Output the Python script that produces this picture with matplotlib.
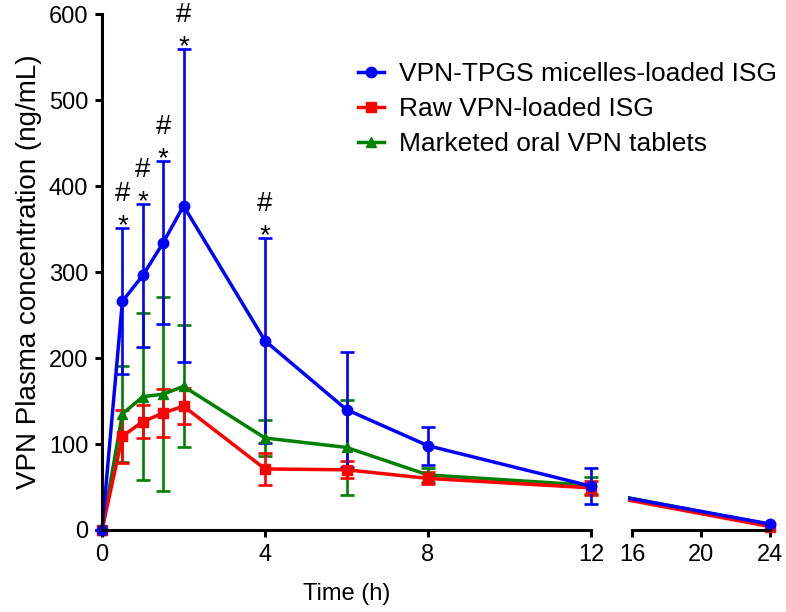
import matplotlib
matplotlib.use("Agg")
import matplotlib.pyplot as plt

# ====== DATA ======
time_h = [0, 0.5, 1, 1.5, 2, 4, 6, 8, 12, 24]

micelle_isg = [0, 266, 296, 334, 377, 220, 140, 98, 51, 7]
micelle_err = [0, 85, 83, 95, 182, 119, 67, 22, 21, 0]

raw_isg = [0, 109, 126, 136, 144, 71, 70, 60, 49, 4]
raw_err = [0, 31, 19, 28, 21, 19, 10, 7, 8, 0]

oral_tab = [0, 135, 155, 158, 167, 107, 96, 64, 52, 6]
oral_err = [0, 56, 97, 113, 71, 21, 55, 8, 10, 0]

labels = ["VPN-TPGS micelles-loaded ISG", "Raw VPN-loaded ISG", "Marketed oral VPN tablets"]
signif_times = [0.5, 1, 1.5, 2, 4]   # points marked with * and #

# ====== STYLE ======
plt.rcParams['font.family'] = ['Liberation Sans', 'DejaVu Sans']
BLUE, RED, GREEN = "#0000ff", "#ff0000", "#008000"
series = [
    (oral_tab, oral_err, GREEN, "^", 7, labels[2]),
    (raw_isg, raw_err, RED, "s", 6.5, labels[1]),
    (micelle_isg, micelle_err, BLUE, "o", 7.5, labels[0]),
]
LW = 2.5

fig = plt.figure(figsize=(7.86, 6.12), dpi=100)
ax1 = fig.add_axes([0.1298, 0.134, 0.6221, 0.843])
ax2 = fig.add_axes([0.799, 0.134, 0.187, 0.843])

n_left = sum(1 for t in time_h if t <= 12)
handles, names = [], []
for vals, err, col, mk, ms, lab in series:
    x = time_h[:n_left]
    y = vals[:n_left]
    e = err[:n_left]
    h = ax1.errorbar(x, y, yerr=e, color=col, marker=mk, markersize=ms,
                     linewidth=LW, elinewidth=1.9, capsize=5, capthick=1.9,
                     clip_on=False)
    for art in h.lines[1] + h.lines[2]:
        art.set_clip_on(False)
    handles.append(h.lines[0])
    names.append(lab)
    # second segment of the broken axis: 12 h -> 24 h
    ax2.plot(time_h[n_left - 1:], vals[n_left - 1:], color=col, linewidth=LW)
    ax2.plot(time_h[n_left:], vals[n_left:], color=col, marker=mk, markersize=ms,
             linestyle="none", clip_on=False)

# significance marks above micelle error bars
for t in signif_times:
    i = time_h.index(t)
    top = micelle_isg[i] + micelle_err[i]
    ax1.annotate("*", (t, top), xytext=(0, -3.5), textcoords="offset points",
                 ha="center", va="baseline", fontsize=20)
    ax1.annotate("#", (t, top), xytext=(0, 19.5), textcoords="offset points",
                 ha="center", va="baseline", fontsize=20)

# ====== AXES ======
ax1.set_xlim(0, 12)
ax1.set_ylim(0, 600)
ax1.set_xticks([0, 4, 8, 12])
ax1.set_yticks(range(0, 601, 100))
ax1.spines[['top', 'right']].set_visible(False)
for s in ['left', 'bottom']:
    ax1.spines[s].set_linewidth(2.2)
ax1.tick_params(width=2.2, length=5, labelsize=17, pad=5)
ax1.set_ylabel("VPN Plasma concentration (ng/mL)", fontsize=20, labelpad=5)
ax1.set_xlabel("Time (h)", fontsize=17, labelpad=12)

ax2.set_xlim(15.77, 24.3)
ax2.set_ylim(0, 600)
ax2.set_xticks([16, 20, 24])
ax2.set_yticks([])
ax2.spines[['top', 'right', 'left']].set_visible(False)
ax2.spines['bottom'].set_bounds(16, 24)
ax2.spines['bottom'].set_linewidth(2.2)
ax2.tick_params(width=2.2, length=5, labelsize=17, pad=5)
ax2.patch.set_visible(False)

ax1.legend(handles[::-1], names[::-1], loc="upper left",
           bbox_to_anchor=(358 / 786, 1 - 62 / 612), bbox_transform=fig.transFigure,
           frameon=False, fontsize=19, handlelength=1.0, handletextpad=0.55,
           labelspacing=0.42, borderpad=0, borderaxespad=0)

fig.savefig("out.png", dpi=100)
